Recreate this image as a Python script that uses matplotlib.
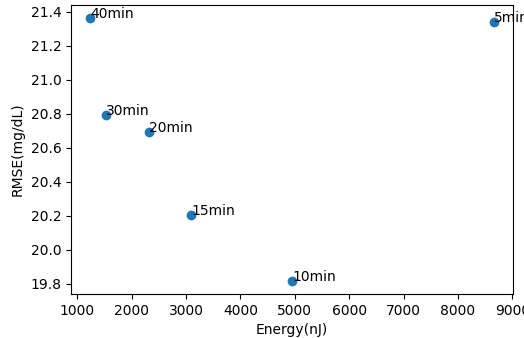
import matplotlib.pyplot as plt

# energy per window length vs. prediction error
labels = ['5min', '10min', '15min', '20min', '30min', '40min']
energy = [8660, 4952, 3090, 2312, 1528, 1233]
rmse = [21.339, 19.814, 20.206, 20.691, 20.793, 21.365]

fig, ax = plt.subplots(figsize=(5.24, 3.38), dpi=100)
fig.subplots_adjust(left=0.1355, right=0.979, top=0.985, bottom=0.130)

ax.scatter(energy, rmse)
for i, txt in enumerate(labels):
    ax.annotate(txt, (energy[i], rmse[i]))

ax.set_xlim(884, 9010)
ax.set_ylim(19.74, 21.44)
ax.set_xticks(range(1000, 9001, 1000))
ax.set_xlabel('Energy(nJ)')
ax.set_ylabel('RMSE(mg/dL)')

fig.savefig('out.png')
